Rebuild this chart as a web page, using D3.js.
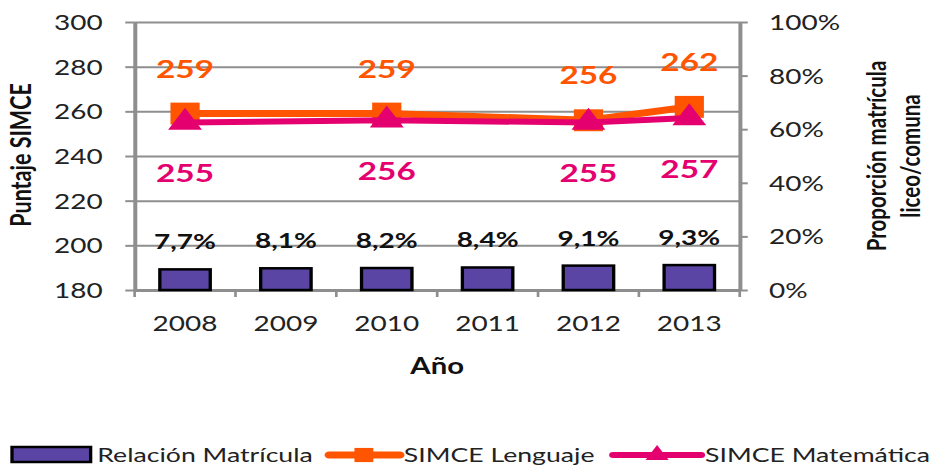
<!DOCTYPE html>
<html>
<head>
<meta charset="utf-8">
<script src="https://cdn.jsdelivr.net/npm/d3@7"></script>
<style>
  body { margin: 0; background: #fff; }
  text { font-family: Lato, "Open Sans", sans-serif; }
</style>
</head>
<body>
<div id="chart"></div>
<script>
// data
var years = ["2008", "2009", "2010", "2011", "2012", "2013"];
var matricula = [7.7, 8.1, 8.2, 8.4, 9.1, 9.3];        // % right axis
var lenguaje = [259, null, 259, null, 256, 262];        // SIMCE Lenguaje
var matematica = [255, null, 256, null, 255, 257];      // SIMCE Matemática
var leftTicks = [180, 200, 220, 240, 260, 280, 300];
var rightTicks = [0, 0.2, 0.4, 0.6, 0.8, 1];

// the original picture is stretched sideways, so draw in a narrower box and stretch
var svgWidth = 933, svgHeight = 467;
var vbWidth = 700;

var margin = { top: 22, left: 101, right: 145 };
var plotBottom = 290;
var Width = vbWidth - margin.left - margin.right;
var Height = plotBottom - margin.top;

var svg = d3.select("#chart").append("svg")
  .attr("width", svgWidth)
  .attr("height", svgHeight)
  .attr("viewBox", `0 0 ${vbWidth} ${svgHeight}`)
  .attr("preserveAspectRatio", "none");

var chartGroup = svg.append("g").attr("transform", `translate(${margin.left},${margin.top})`);

var orange = "#FF5500", pink = "#E4006F", purple = "#5B45A4", grid = "#8E8E8E";

var x = d3.scaleBand().domain(years).range([0, Width]);
var yLeft = d3.scaleLinear().domain([180, 300]).range([Height, 0]);
var yRight = d3.scaleLinear().domain([0, 1]).range([Height, 0]);

// gridlines
chartGroup.append("g")
  .call(d3.axisLeft(yLeft).tickValues(leftTicks).tickSize(-Width).tickFormat(""))
  .call(g => g.select(".domain").remove())
  .selectAll("line").attr("stroke", grid).attr("stroke-width", 2);

// left axis
var leftAxis = chartGroup.append("g")
  .call(d3.axisLeft(yLeft).tickValues(leftTicks).tickSize(7).tickPadding(17).tickSizeOuter(0));
leftAxis.select(".domain").attr("stroke", grid).attr("stroke-width", 3);
leftAxis.selectAll("line").attr("stroke", grid).attr("stroke-width", 2);
leftAxis.selectAll("text").attr("font-size", 21).attr("fill", "#222").attr("dy", "0.36em");

// right axis
var rightAxis = chartGroup.append("g")
  .attr("transform", `translate(${Width},0)`)
  .call(d3.axisRight(yRight).tickValues(rightTicks).tickSize(6).tickPadding(16).tickSizeOuter(0)
    .tickFormat(d3.format(".0%")));
rightAxis.select(".domain").attr("stroke", grid).attr("stroke-width", 3);
rightAxis.selectAll("line").attr("stroke", grid).attr("stroke-width", 2);
rightAxis.selectAll("text").attr("font-size", 21).attr("fill", "#222").attr("dy", "0.36em");

// bottom axis: labels in band centers, ticks on band edges
var bottomAxis = chartGroup.append("g")
  .attr("transform", `translate(0,${Height})`)
  .call(d3.axisBottom(x).tickSize(0).tickPadding(26));
bottomAxis.select(".domain").attr("stroke", grid).attr("stroke-width", 3);
bottomAxis.selectAll("text").attr("font-size", 21).attr("fill", "#222");
var edges = years.map(d => x(d)).concat([x.range()[1]]);
bottomAxis.selectAll(".edge").data(edges).enter().append("line")
  .attr("x1", d => d).attr("x2", d => d)
  .attr("y1", 0).attr("y2", 7)
  .attr("stroke", grid).attr("stroke-width", 2);

// bars
var barData = years.map((d, i) => ({ year: d, v: matricula[i] }));
chartGroup.selectAll("rect.bar").data(barData).enter().append("rect")
  .attr("class", "bar")
  .attr("x", d => x(d.year) + x.bandwidth() * 0.25)
  .attr("width", x.bandwidth() * 0.5)
  .attr("y", d => yRight(d.v / 100))
  .attr("height", d => Height - yRight(d.v / 100))
  .attr("fill", purple)
  .attr("stroke", "#000")
  .attr("stroke-width", 2.5);

chartGroup.selectAll("text.barlbl").data(barData).enter().append("text")
  .attr("x", d => x(d.year) + x.bandwidth() / 2)
  .attr("y", d => yRight(d.v / 100) - 20)
  .attr("text-anchor", "middle")
  .attr("font-size", 21)
  .attr("font-weight", "bold")
  .attr("fill", "#111")
  .text(d => d.v.toFixed(1).replace(".", ",") + "%");

// lines
function seriesPoints(vals) {
  return years.map((d, i) => ({ year: d, v: vals[i] })).filter(d => d.v !== null);
}
var line = d3.line()
  .x(d => x(d.year) + x.bandwidth() / 2)
  .y(d => yLeft(d.v));

var lenPts = seriesPoints(lenguaje);
var matPts = seriesPoints(matematica);

chartGroup.append("path").datum(lenPts)
  .attr("d", line).attr("fill", "none")
  .attr("stroke", orange).attr("stroke-width", 7).attr("stroke-linejoin", "round");
chartGroup.selectAll("path.sq").data(lenPts).enter().append("path")
  .attr("transform", d => `translate(${x(d.year) + x.bandwidth() / 2},${yLeft(d.v)})`)
  .attr("d", d3.symbol(d3.symbolSquare, 480))
  .attr("fill", orange);

chartGroup.append("path").datum(matPts)
  .attr("d", line).attr("fill", "none")
  .attr("stroke", pink).attr("stroke-width", 6).attr("stroke-linejoin", "round");
chartGroup.selectAll("path.tri").data(matPts).enter().append("path")
  .attr("transform", d => `translate(${x(d.year) + x.bandwidth() / 2},${yLeft(d.v)})`)
  .attr("d", d3.symbol(d3.symbolTriangle, 280))
  .attr("fill", pink);

// value labels
chartGroup.selectAll("text.len").data(lenPts).enter().append("text")
  .attr("x", d => x(d.year) + x.bandwidth() / 2)
  .attr("y", d => yLeft(d.v) - 45)
  .attr("dy", "0.36em")
  .attr("text-anchor", "middle")
  .attr("font-size", 25).attr("font-weight", "bold")
  .attr("fill", orange)
  .text(d => d.v);

chartGroup.selectAll("text.mat").data(matPts).enter().append("text")
  .attr("x", d => x(d.year) + x.bandwidth() / 2)
  .attr("y", d => yLeft(d.v) + 51)
  .attr("dy", "0.36em")
  .attr("text-anchor", "middle")
  .attr("font-size", 25).attr("font-weight", "bold")
  .attr("fill", pink)
  .text(d => d.v);

// axis titles
svg.append("text")
  .attr("x", margin.left + Width / 2).attr("y", 374)
  .attr("text-anchor", "middle")
  .attr("font-size", 22).attr("font-weight", "bold").attr("fill", "#111")
  .text("Año");

svg.append("text")
  .attr("transform", `translate(23,155) rotate(-90)`)
  .attr("text-anchor", "middle")
  .attr("font-size", 21.5).attr("font-weight", "bold").attr("fill", "#111")
  .text("Puntaje SIMCE");

var rTitle = svg.append("text")
  .attr("transform", `translate(665,156) rotate(-90)`)
  .attr("text-anchor", "middle")
  .attr("font-size", 20.5).attr("font-weight", "bold").attr("fill", "#111");
rTitle.append("tspan").attr("x", 0).attr("y", 0).text("Proporción matrícula");
rTitle.append("tspan").attr("x", 0).attr("y", 25).text("liceo/comuna");

// legend
var legend = svg.append("g").attr("transform", "translate(0,455)");
legend.append("rect")
  .attr("x", 9).attr("y", -8).attr("width", 59).attr("height", 15)
  .attr("fill", purple).attr("stroke", "#000").attr("stroke-width", 2.5);
legend.append("text").attr("x", 73).attr("y", 0).attr("dy", "0.36em")
  .attr("font-size", 20).attr("fill", "#222").text("Relación Matrícula");

legend.append("line").attr("x1", 247).attr("x2", 300).attr("y1", 0).attr("y2", 0)
  .attr("stroke", orange).attr("stroke-width", 7).attr("stroke-linecap", "round");
legend.append("path").attr("transform", "translate(273,0)")
  .attr("d", d3.symbol(d3.symbolSquare, 200)).attr("fill", orange);
legend.append("text").attr("x", 303).attr("y", 0).attr("dy", "0.36em")
  .attr("font-size", 20).attr("fill", "#222").text("SIMCE Lenguaje");

legend.append("line").attr("x1", 460).attr("x2", 526).attr("y1", 0).attr("y2", 0)
  .attr("stroke", pink).attr("stroke-width", 6).attr("stroke-linecap", "round");
legend.append("path").attr("transform", "translate(493,0)")
  .attr("d", d3.symbol(d3.symbolTriangle, 130)).attr("fill", pink);
legend.append("text").attr("x", 529).attr("y", 0).attr("dy", "0.36em")
  .attr("font-size", 20).attr("fill", "#222").text("SIMCE Matemática");
</script>
</body>
</html>
